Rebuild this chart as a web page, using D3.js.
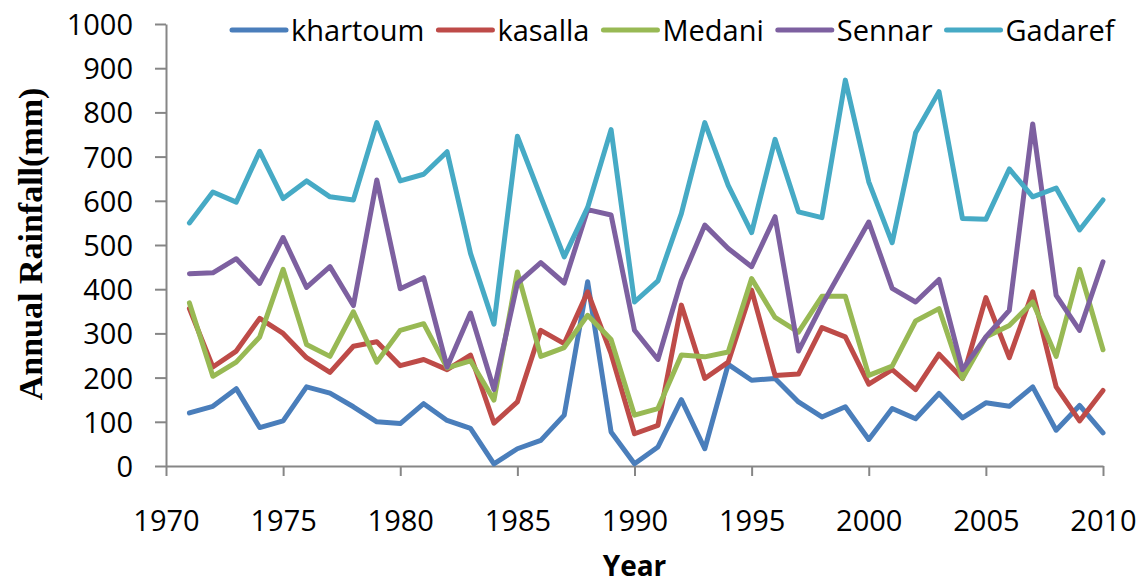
<!DOCTYPE html>
<html>
<head>
<meta charset="utf-8">
<script src="https://cdn.jsdelivr.net/npm/d3@7"></script>
<style>
  html, body { margin: 0; padding: 0; background: #fff; }
  svg { display: block; }
  .axis text { font-family: "Open Sans", sans-serif; font-size: 29px; fill: #000; }
  .axis line, .axis path { stroke: #868686; stroke-width: 2px; }
  .legend text { font-family: "Open Sans", sans-serif; font-size: 29px; fill: #000; }
</style>
</head>
<body>
<div id="chart"></div>
<script>
const years = [
  1971, 1972, 1973, 1974, 1975, 1976, 1977, 1978, 1979, 1980,
  1981, 1982, 1983, 1984, 1985, 1986, 1987, 1988, 1989, 1990,
  1991, 1992, 1993, 1994, 1995, 1996, 1997, 1998, 1999, 2000,
  2001, 2002, 2003, 2004, 2005, 2006, 2007, 2008, 2009, 2010,
];

const khartoum = [
  120, 135, 175, 87, 102, 179, 165, 134, 100, 96,
  141, 103, 85, 5, 39, 58, 115, 417, 77, 5,
  43, 150, 39, 230, 194, 198, 145, 111, 134, 60,
  130, 107, 164, 109, 143, 135, 179, 81, 137, 75,
];
const kasalla = [
  356, 224, 260, 334, 300, 245, 212, 271, 281, 227,
  241, 218, 251, 97, 145, 307, 277, 394, 254, 73,
  92, 364, 198, 235, 398, 205, 208, 313, 292, 185,
  218, 173, 253, 198, 381, 245, 394, 179, 102, 171,
];
const medani = [
  369, 203, 235, 292, 445, 275, 248, 349, 235, 307,
  322, 222, 238, 149, 439, 248, 268, 341, 286, 115,
  130, 251, 247, 258, 424, 336, 303, 384, 384, 205,
  226, 328, 356, 198, 292, 318, 371, 248, 445, 263,
];
const sennar = [
  435, 437, 469, 413, 517, 404, 451, 363, 647, 401,
  426, 224, 346, 173, 413, 460, 414, 580, 568, 307,
  241, 420, 545, 492, 451, 564, 260, 364, 458, 552,
  402, 371, 422, 218, 292, 352, 774, 386, 307, 462,
];
const gadaref = [
  550, 620, 597, 712, 605, 645, 609, 602, 777, 645,
  660, 711, 481, 321, 746, 609, 473, 585, 761, 371,
  419, 571, 777, 635, 528, 739, 575, 562, 873, 643,
  505, 754, 847, 560, 558, 672, 609, 629, 534, 602,
];

const seriesNames = ["khartoum", "kasalla", "Medani", "Sennar", "Gadaref"];
const seriesValues = [khartoum, kasalla, medani, sennar, gadaref];
const seriesColors = ["#4A7EBB", "#BE4B48", "#98B954", "#7D60A0", "#46AAC5"];

const xTicks = [1970, 1975, 1980, 1985, 1990, 1995, 2000, 2005, 2010];
const yTicks = [0, 100, 200, 300, 400, 500, 600, 700, 800, 900, 1000];

class LineChart {
  constructor(_config, _data) {
    this.config = {
      parentElement: _config.parentElement,
      containerWidth: _config.containerWidth || 1144,
      containerHeight: _config.containerHeight || 585,
      margin: _config.margin || { top: 24, right: 41, bottom: 119, left: 166 },
    };
    this.data = _data;
    this.initVis();
  }

  initVis() {
    let vis = this;

    vis.width = vis.config.containerWidth - vis.config.margin.left - vis.config.margin.right;
    vis.height = vis.config.containerHeight - vis.config.margin.top - vis.config.margin.bottom;

    vis.svg = d3
      .select(vis.config.parentElement)
      .append("svg")
      .attr("width", vis.config.containerWidth)
      .attr("height", vis.config.containerHeight);

    vis.chart = vis.svg.append("g").attr("transform", `translate(${vis.config.margin.left},${vis.config.margin.top})`);

    vis.xScale = d3.scaleLinear().domain([1970, 2010]).range([0, vis.width]);
    vis.yScale = d3.scaleLinear().domain([0, 1000]).range([vis.height, 0]);

    vis.xAxis = d3.axisBottom(vis.xScale).tickValues(xTicks).tickFormat(d3.format("d")).tickSizeInner(10).tickSizeOuter(0);
    vis.yAxis = d3
      .axisLeft(vis.yScale)
      .tickValues(yTicks)
      .tickFormat(d3.format("d"))
      .tickSizeInner(11)
      .tickSizeOuter(0)
      .tickPadding(22);

    vis.xAxisG = vis.chart.append("g").attr("class", "axis x-axis").attr("transform", `translate(0,${vis.height})`);
    vis.yAxisG = vis.chart.append("g").attr("class", "axis y-axis");

    // Axis titles
    vis.svg
      .append("text")
      .attr("transform", `translate(42,${vis.config.margin.top + 220}) rotate(-90)`)
      .attr("text-anchor", "middle")
      .style("font-family", "'Liberation Serif', serif")
      .style("font-weight", "bold")
      .style("font-size", "34px")
      .text("Annual Rainfall(mm)");

    vis.svg
      .append("text")
      .attr("x", vis.config.margin.left + vis.xScale(1990))
      .attr("y", 576)
      .attr("text-anchor", "middle")
      .style("font-family", "'Open Sans', sans-serif")
      .style("font-weight", "bold")
      .style("font-size", "28px")
      .text("Year");

    vis.line = d3
      .line()
      .x((d) => vis.xScale(d.year))
      .y((d) => vis.yScale(d.value));

    vis.legend = vis.svg.append("g").attr("class", "legend").attr("transform", "translate(232,30)");
  }

  updateVis() {
    let vis = this;
    vis.series = seriesNames.map((name, i) => ({
      name: name,
      color: seriesColors[i],
      values: years.map((year, j) => ({ year: year, value: seriesValues[i][j] })),
    }));
    vis.renderVis();
  }

  renderVis() {
    let vis = this;

    vis.xAxisG.call(vis.xAxis);
    vis.xAxisG.selectAll(".tick text").attr("y", 65).attr("dy", 0);

    vis.yAxisG.call(vis.yAxis);
    vis.yAxisG.selectAll(".tick text").attr("dy", "0.36em");

    vis.chart
      .selectAll(".series")
      .data(vis.series)
      .join("path")
      .attr("class", "series")
      .attr("fill", "none")
      .attr("stroke", (d) => d.color)
      .attr("stroke-width", 5)
      .attr("stroke-linejoin", "round")
      .attr("stroke-linecap", "round")
      .attr("d", (d) => vis.line(d.values));

    // Legend items laid out one after another
    let offset = 0;
    vis.series.forEach((d) => {
      const item = vis.legend.append("g").attr("transform", `translate(${offset},0)`);
      item
        .append("line")
        .attr("x1", 0)
        .attr("x2", 54)
        .attr("stroke", d.color)
        .attr("stroke-width", 5)
        .attr("stroke-linecap", "round");
      const label = item.append("text").attr("x", 59).attr("y", 11).text(d.name);
      offset += 59 + label.node().getComputedTextLength() + 14;
    });
  }
}

const chart = new LineChart({ parentElement: "#chart" }, seriesValues);
chart.updateVis();
</script>
</body>
</html>
